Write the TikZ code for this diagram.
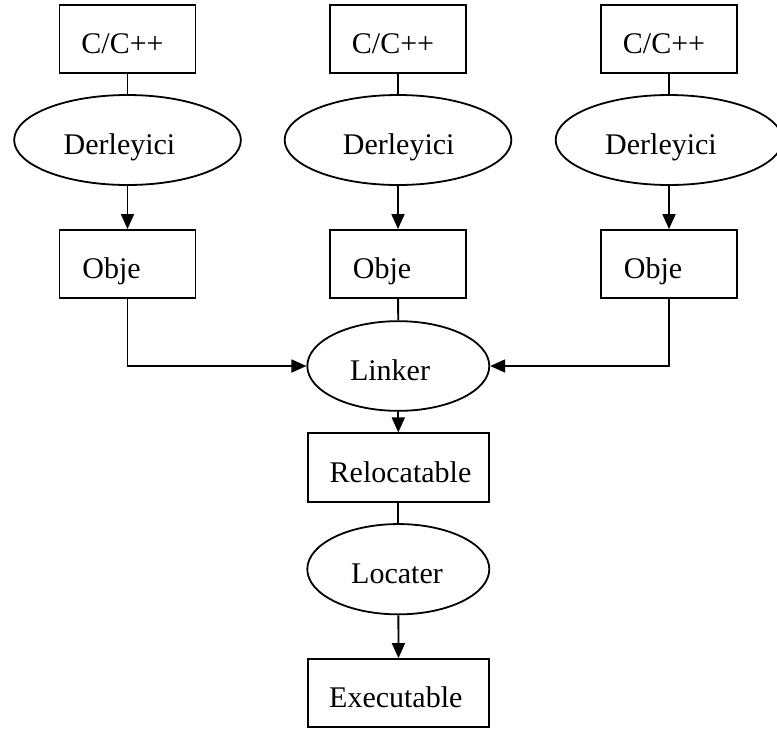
\documentclass[tikz,border=0pt]{standalone}
\usepackage{fontspec}
\setmainfont{Liberation Serif}
\usetikzlibrary{shapes.geometric,arrows.meta}
\begin{document}
\begin{tikzpicture}[x=1pt,y=-1pt,
  every node/.style={font=\fontsize{30}{36}\selectfont, text height=29pt, text depth=0pt, inner sep=0pt, line width=1.8pt, draw},
  box/.style={rectangle, minimum width=136pt, minimum height=67.7pt},
  ell/.style={ellipse, minimum width=226.7pt, minimum height=90pt},
  lnk/.style={line width=1.8pt},
  arr/.style={lnk, -{Triangle[length=15pt,width=13pt]}}]
\useasboundingbox (0,0) rectangle (777,732);
% column 1
\node[box] (s1) at (127.5,38.8) {C/C++\hspace*{10pt}};
\node[ell] (d1) at (127.5,140) {Derleyici\hspace*{16pt}};
\node[box] (o1) at (127.5,263.8) {Obje\hspace*{32pt}};
% column 2
\node[box] (s2) at (398,38.8) {C/C++\hspace*{10pt}};
\node[ell] (d2) at (398,140) {\hspace*{1.4pt}Derleyici};
\node[box] (o2) at (398,263.8) {Obje\hspace*{32pt}};
% column 3
\node[box] (s3) at (669,38.8) {C/C++\hspace*{10pt}};
\node[ell] (d3) at (669,140) {Derleyici\hspace*{16pt}};
\node[box] (o3) at (669,263.8) {Obje\hspace*{32pt}};
% bottom chain
\node[ell, minimum width=182pt, minimum height=89.7pt] (lk) at (398.3,366) {Linker\hspace*{16.6pt}};
\node[box, minimum width=181.3pt, minimum height=68.4pt] (rel) at (398.3,467.5) {\hspace*{4.4pt}Relocatable};
\node[ell, minimum width=182pt, minimum height=90.3pt] (loc) at (398.3,569.2) {Locater\hspace*{2.6pt}};
\node[box, minimum width=181pt, minimum height=68.3pt] (exe) at (398.5,693.2) {Executable\hspace*{5.4pt}};
% connectors
\draw[lnk] (s1) -- (d1);
\draw[arr] (d1) -- (o1);
\draw[lnk] (s2) -- (d2);
\draw[arr] (d2) -- (o2);
\draw[lnk] (s3) -- (d3);
\draw[arr] (d3) -- (o3);
\draw[arr] (o1.south) |- (lk.west);
\draw[lnk] (o2) -- (lk);
\draw[arr] (o3.south) |- (lk.east);
\draw[arr] (lk) -- (rel);
\draw[lnk] (rel) -- (loc);
\draw[arr] (loc) -- (exe);
\end{tikzpicture}
\end{document}
